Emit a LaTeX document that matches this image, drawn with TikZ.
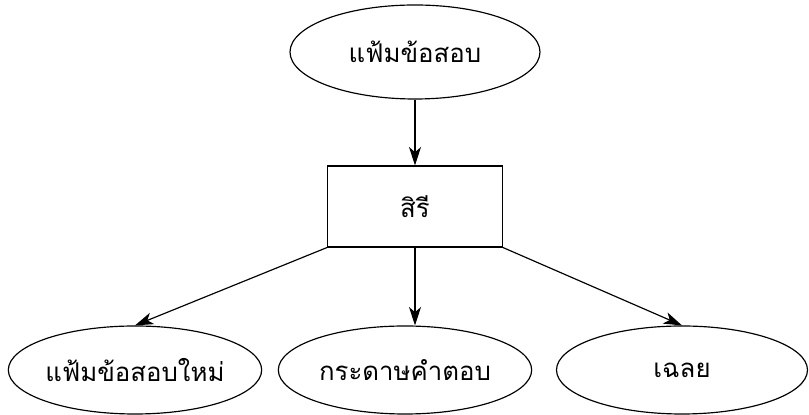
\documentclass[tikz,border=0pt]{standalone}
\usepackage{fontspec}
\newfontfamily\thaifont[Script=Thai]{Loma}
\usetikzlibrary{shapes.geometric,arrows.meta}

\begin{document}
\begin{tikzpicture}[
        every node/.style={font=\thaifont\fontsize{22}{26}\selectfont},
        oval/.style={draw, ellipse, line width=1pt, inner xsep=-0.6cm, inner ysep=-0.3cm, minimum width=7.6cm, minimum height=2.64cm},
        box/.style={draw, rectangle, line width=1pt, minimum width=5.25cm, minimum height=2.43cm},
        arr/.style={line width=1pt, -{Stealth[length=5.5mm, width=3.6mm, inset=1.5mm]}}
    ]
        \useasboundingbox (0, 0) rectangle (24.27, 12.45);

        \node [oval, minimum width=7.5cm, minimum height=2.82cm] (exam) at (12.45, 10.89) {แฟ้มข้อสอบ};
        \node [box] (siri) at (12.45, 6.255) {สิรี};

        \node [oval] (newexam) at (4.05, 1.35) {แฟ้มข้อสอบใหม่};
        \node [oval] (answer) at (12.15, 1.35) {กระดาษคำตอบ};
        \node [oval, minimum width=7.53cm] (solution) at (20.46, 1.35) {เฉลย};

        \draw [arr] (exam.south) -- (siri.north);
        \draw [arr] (siri.south west) -- (newexam.north);
        \draw [arr] (siri.south) -- (siri.south |- answer.north);
        \draw [arr] (siri.south east) -- (solution.north);
      \end{tikzpicture}
\end{document}
